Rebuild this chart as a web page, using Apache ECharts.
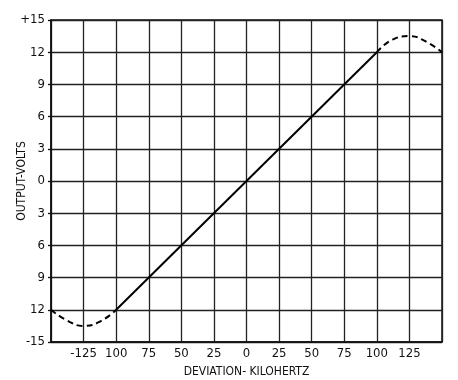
<!DOCTYPE html>
<html>
<head>
<meta charset="utf-8">
<script src="https://cdn.jsdelivr.net/npm/echarts@6/dist/echarts.min.js"></script>
<style>html,body{margin:0;padding:0;background:#fff;}#c{width:458px;height:380px;}</style>
</head>
<body>
<div id="c"></div>
<script>
// Deviation (kHz) vs output (volts)
const linearX = [-100, 100];
const linearY = [-12, 12];
const lowCurveX = [-150, -137.5, -125, -112.5, -100];
const lowCurveY = [-12, -13.0, -13.5, -13.1, -12];
const highCurveX = [100, 112.5, 125, 137.5, 150];
const highCurveY = [12, 13.2, 13.5, 13.0, 12];
const xTickLabels = ['', '-125', '100', '75', '50', '25', '0', '25', '50', '75', '100', '125', ''];
const yTickLabels = ['-15', '12', '9', '6', '3', '0', '3', '6', '9', '12', '+15'];

const FONT = '"Liberation Sans Narrow", "DejaVu Sans Condensed", "Liberation Sans", sans-serif';
const pairs = (xs, ys) => xs.map((x, i) => [x, ys[i]]);

const chart = echarts.init(document.getElementById('c'), null, {renderer: 'canvas'});
chart.setOption({
  animation: false,
  backgroundColor: '#fff',
  grid: {left: 51, right: 16, top: 20, bottom: 38, show: true, borderColor: '#111', borderWidth: 1.5,
    containLabel: false, outerBoundsMode: 'none'},
  xAxis: {
    type: 'value', min: -150, max: 150, interval: 25,
    name: 'DEVIATION- KILOHERTZ', nameLocation: 'middle', nameGap: 24, nameMoveOverlap: false,
    nameTextStyle: {color: '#111', fontFamily: FONT, fontSize: 12},
    axisLine: {show: true, onZero: false, lineStyle: {color: '#111', width: 1.5}},
    axisTick: {show: false},
    axisLabel: {color: '#111', fontFamily: FONT, fontSize: 13, margin: 5,
      formatter: v => xTickLabels[Math.round((v + 150) / 25)]},
    splitLine: {show: true, lineStyle: {color: '#222', width: 1.3}}
  },
  yAxis: {
    type: 'value', min: -15, max: 15, interval: 3,
    name: 'OUTPUT-VOLTS', nameLocation: 'middle', nameGap: 23, nameMoveOverlap: false,
    nameTextStyle: {color: '#111', fontFamily: FONT, fontSize: 12},
    axisLine: {show: true, onZero: false, lineStyle: {color: '#111', width: 1.5}},
    axisTick: {show: true, length: 3, lineStyle: {color: '#111', width: 1.3}},
    axisLabel: {color: '#111', fontFamily: FONT, fontSize: 13, margin: 6,
      formatter: v => yTickLabels[Math.round((v + 15) / 3)]},
    splitLine: {show: true, lineStyle: {color: '#222', width: 1.3}}
  },
  series: [
    {type: 'line', data: pairs(linearX, linearY), symbol: 'none',
      lineStyle: {color: '#000', width: 2}},
    {type: 'line', data: pairs(lowCurveX, lowCurveY), symbol: 'none', smooth: true,
      lineStyle: {color: '#000', width: 2, type: [6, 4]}},
    {type: 'line', data: pairs(highCurveX, highCurveY), symbol: 'none', smooth: true,
      lineStyle: {color: '#000', width: 2, type: [6, 4]}}
  ]
});
</script>
</body>
</html>
